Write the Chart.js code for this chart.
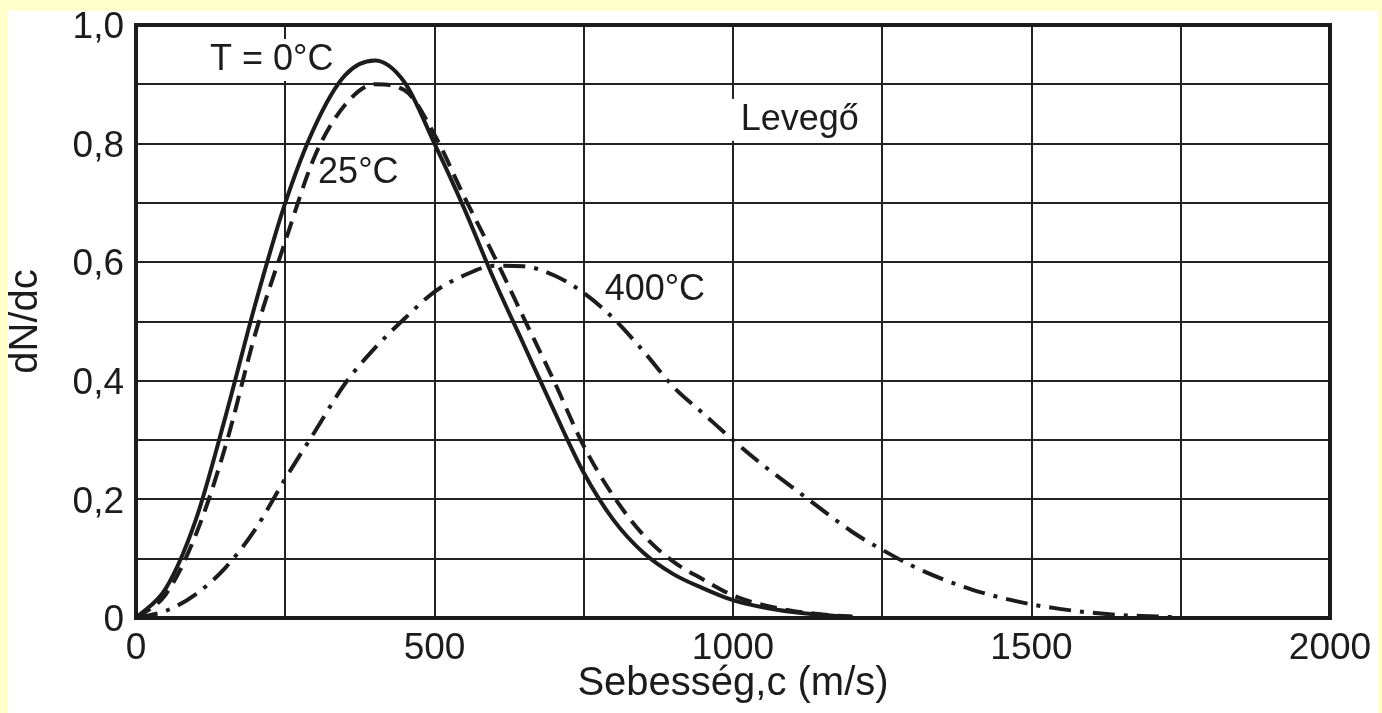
<!DOCTYPE html>
<html><head><meta charset="utf-8">
<script src="https://cdn.jsdelivr.net/npm/chart.js@4/dist/chart.umd.min.js"></script>
<style>
html,body{margin:0;padding:0;background:#FFFFCC;width:1382px;height:713px;overflow:hidden}
#panel{position:absolute;left:8px;top:11px;width:1370px;height:702px;background:#fff}
canvas{display:block}
</style></head><body>
<div id="panel"><canvas id="c" width="1370" height="702"></canvas></div>
<script>
// Speeds (m/s) at which the curves were read
const speeds0 = [0,50,100,150,200,250,300,350,400,450,500,550,600,650,700,750,800,850,900,950,1000,1050,1100,1150,1200];
const values0 = [0,0.05,0.165,0.34,0.53,0.70,0.83,0.915,0.94,0.903,0.80,0.69,0.57,0.46,0.35,0.245,0.165,0.11,0.074,0.05,0.03,0.018,0.01,0.005,0.002];
const speeds25 = [0,50,100,150,200,250,300,350,400,450,500,550,600,650,700,750,800,850,900,950,1000,1050,1100,1150,1200];
const values25 = [0,0.04,0.14,0.29,0.48,0.635,0.78,0.865,0.90,0.89,0.815,0.71,0.61,0.505,0.40,0.29,0.205,0.14,0.095,0.065,0.038,0.022,0.012,0.006,0.002];
const speeds400 = [0,50,100,150,200,250,300,350,400,450,500,550,600,650,700,750,800,850,900,950,1000,1050,1100,1150,1200,1250,1300,1350,1400,1450,1500,1550,1600,1650,1700,1750];
const values400 = [0,0.012,0.04,0.085,0.15,0.235,0.315,0.395,0.455,0.505,0.55,0.578,0.594,0.593,0.578,0.548,0.505,0.45,0.39,0.345,0.30,0.258,0.22,0.182,0.145,0.115,0.088,0.066,0.048,0.034,0.023,0.015,0.009,0.005,0.003,0.001];

const xTickLabels = ['0','500','1000','1500','2000'];
const yTickLabels = ['0','0,2','0,4','0,6','0,8','1,0'];
const xTitle = 'Sebesség,c (m/s)';
const yTitle = 'dN/dc';
const annotations = [
  {text:'T = 0°C', x:124, y:0.941},
  {text:'25°C', x:305, y:0.750},
  {text:'400°C', x:785, y:0.553},
  {text:'Levegő', x:1013, y:0.840}
];

const FONT = '"Liberation Sans", Arial, sans-serif';
const INK = '#1c1c1c';
const toXY = (xs, ys) => xs.map((v,i)=>({x:v, y:ys[i]}));

const annotPlugin = {
  id:'annot',
  beforeDatasetsDraw(chart){
    const {ctx, chartArea:a, scales:{x,y}} = chart;
    ctx.save();
    ctx.font = '36px ' + FONT;
    ctx.textBaseline = 'middle';
    annotations.forEach(an=>{
      const px = x.getPixelForValue(an.x), py = y.getPixelForValue(an.y);
      const w = ctx.measureText(an.text).width;
      ctx.fillStyle = '#fff';
      ctx.fillRect(px-9, py-21, w+18, 42);
      ctx.fillStyle = INK;
      ctx.fillText(an.text, px, py);
    });
    ctx.strokeStyle = INK;
    ctx.lineWidth = 4;
    ctx.strokeRect(a.left, a.top, a.right-a.left, a.bottom-a.top);
    ctx.restore();
  }
};

new Chart(document.getElementById('c'), {
  type:'line',
  data:{
    datasets:[
      {label:'400°C', data:toXY(speeds400, values400), borderColor:INK, borderWidth:4, borderDash:[22,9,4,9], pointRadius:0, cubicInterpolationMode:'monotone', fill:false},
      {label:'25°C', data:toXY(speeds25, values25), borderColor:INK, borderWidth:4, borderDash:[17,9], pointRadius:0, cubicInterpolationMode:'monotone', fill:false},
      {label:'0°C', data:toXY(speeds0, values0), borderColor:INK, borderWidth:4, pointRadius:0, cubicInterpolationMode:'monotone', fill:false}
    ]
  },
  options:{
    responsive:false, animation:false, devicePixelRatio:1,
    layout:{padding:{top:14,right:48,bottom:0,left:0}},
    plugins:{legend:{display:false}, tooltip:{enabled:false}},
    scales:{
      x:{type:'linear', min:0, max:2000,
        border:{display:false},
        grid:{color:'#222', lineWidth:2, drawTicks:false},
        ticks:{stepSize:250, autoSkip:false, maxRotation:0, padding:9, color:INK, font:{family:FONT, size:37},
          callback:(v)=> (v%500===0 ? xTickLabels[v/500] : '')},
        title:{display:true, text:xTitle, color:INK, font:{family:FONT, size:40, lineHeight:1}, padding:{top:0,bottom:9}},
        afterFit:(s)=>{s.height=95; s.paddingLeft=0; s.paddingRight=0;}
      },
      y:{type:'linear', min:0, max:1,
        border:{display:false},
        grid:{color:'#222', lineWidth:2, drawTicks:false},
        ticks:{stepSize:0.1, autoSkip:false, padding:12, labelOffset:3, color:INK, font:{family:FONT, size:37},
          callback:(v)=>{const k=Math.round(v*10); return k%2===0 ? yTickLabels[k/2] : '';}},
        title:{display:true, text:yTitle, color:INK, font:{family:FONT, size:40, lineHeight:0.9}, padding:{top:0,bottom:0}},
        afterFit:(s)=>{s.width=128; s.paddingTop=0; s.paddingBottom=0;}
      }
    }
  },
  plugins:[annotPlugin]
});
</script>
</body></html>
